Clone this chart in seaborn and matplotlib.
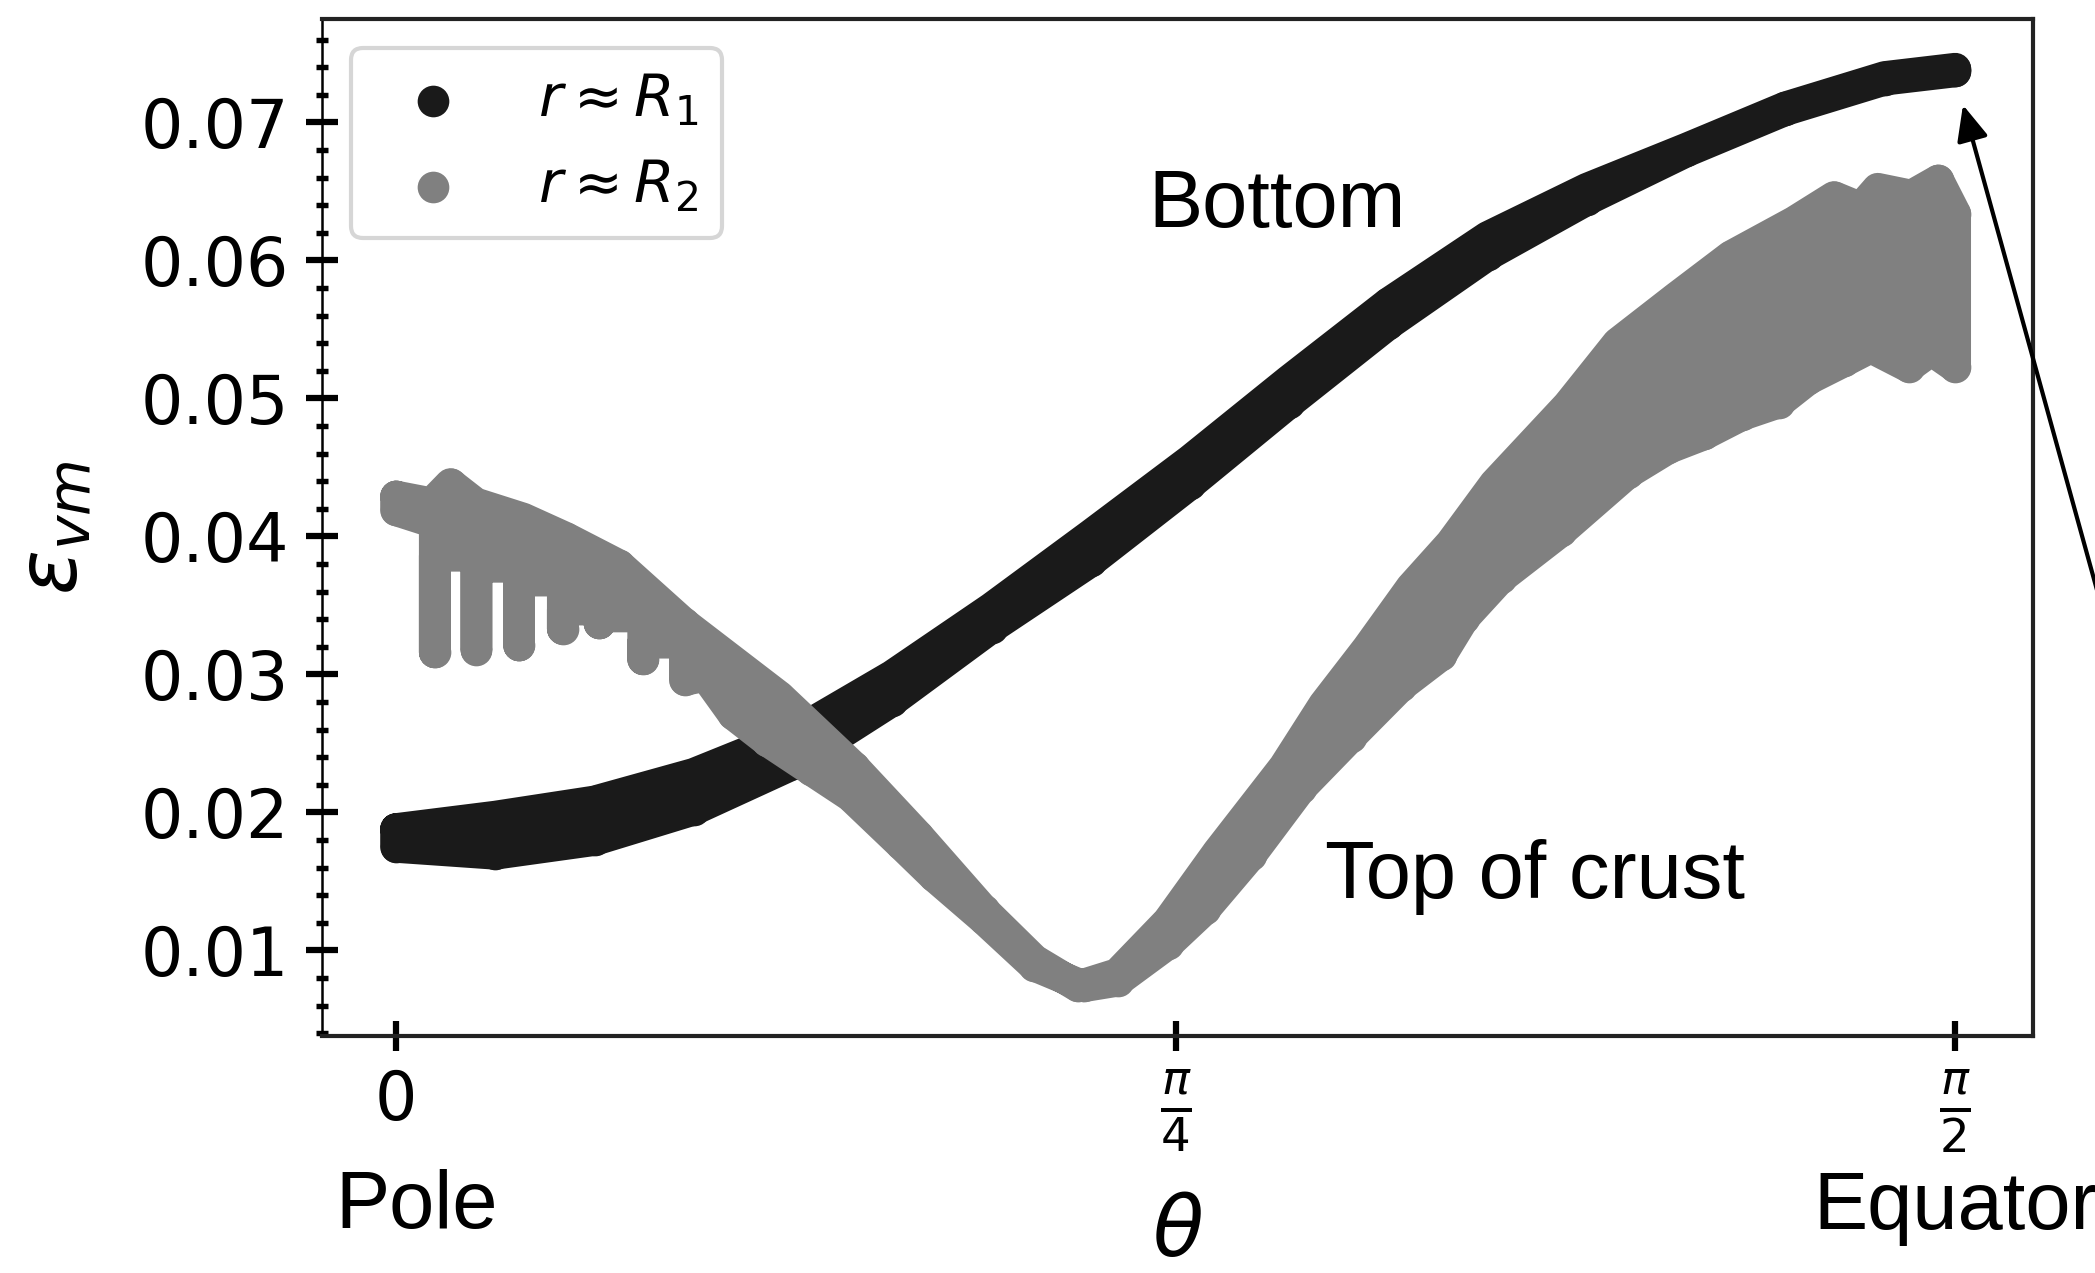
import numpy as np
import pandas as pd
import matplotlib
matplotlib.use("Agg")
import matplotlib.pyplot as plt
from matplotlib.patches import FancyArrowPatch
from matplotlib.ticker import MultipleLocator
import seaborn as sns

# ---------------- data ----------------
# r ~ R1 ("Bottom"): upper / lower envelope of the point cloud (marker centres)
r1_theta = [0.0, 0.1, 0.2, 0.3, 0.4, 0.5, 0.6, 0.7, 0.8, 0.9, 1.0, 1.1, 1.2, 1.3,
            1.4, 1.5, 1.571]
r1_upper = [0.0188, 0.0197, 0.0208, 0.0228, 0.0257, 0.0299, 0.0348, 0.0401, 0.0455,
            0.0513, 0.0569, 0.0617, 0.0652, 0.0681, 0.0711, 0.0733, 0.0739]
r1_lower = [0.0175, 0.0170, 0.0180, 0.0202, 0.0235, 0.0281, 0.0334, 0.0382, 0.0438,
            0.0497, 0.0554, 0.0604, 0.0644, 0.0679, 0.0709, 0.0731, 0.0737]

# r ~ R2 ("Top of crust"): upper envelope
r2_up_theta = [0.000, 0.036, 0.055, 0.080, 0.128, 0.171, 0.225, 0.290, 0.386, 0.461,
               0.526, 0.592, 0.643, 0.687, 0.727, 0.778, 0.828, 0.895, 0.935, 0.979,
               1.023, 1.063, 1.107, 1.181, 1.231, 1.290, 1.345, 1.409, 1.449, 1.476,
               1.493, 1.527, 1.554, 1.571]
r2_upper = [0.0429, 0.0424, 0.0438, 0.0424, 0.0413, 0.0399, 0.0379, 0.0337, 0.0284, 0.0233,
            0.0183, 0.0129, 0.0093, 0.0074, 0.0083, 0.0121, 0.0171, 0.0233, 0.0278, 0.0319,
            0.0363, 0.0395, 0.0438, 0.0495, 0.0540, 0.0573, 0.0603, 0.0628, 0.0646, 0.0638,
            0.0652, 0.0647, 0.0658, 0.0634]
# r ~ R2: lower envelope (columns / "fingers" near the pole)
r2_lo_theta = [0.000, 0.039, 0.039, 0.039, 0.081, 0.081, 0.081, 0.124, 0.124, 0.124,
               0.168, 0.168, 0.168, 0.205, 0.205, 0.205, 0.249, 0.249, 0.249, 0.291,
               0.291, 0.312, 0.340, 0.374, 0.418, 0.458, 0.509, 0.542, 0.592, 0.643,
               0.693, 0.727, 0.778, 0.815, 0.861, 0.912, 0.962, 1.013, 1.053, 1.076,
               1.113, 1.174, 1.241, 1.282, 1.318, 1.356, 1.393, 1.423, 1.459, 1.486,
               1.524, 1.547, 1.571]
r2_lower = [0.0419, 0.0410, 0.0316, 0.0386, 0.0386, 0.0318, 0.0378, 0.0378, 0.0321, 0.0368,
            0.0368, 0.0333, 0.0347, 0.0347, 0.0337, 0.0342, 0.0342, 0.0311, 0.0323, 0.0323,
            0.0296, 0.0299, 0.0271, 0.0252, 0.0231, 0.0212, 0.0177, 0.0154, 0.0123, 0.0089,
            0.0074, 0.0078, 0.0105, 0.0130, 0.0169, 0.0218, 0.0255, 0.0292, 0.0314, 0.0341,
            0.0370, 0.0404, 0.0446, 0.0464, 0.0474, 0.0488, 0.0497, 0.0514, 0.0527, 0.0537,
            0.0523, 0.0535, 0.0523]

series_labels = [r'$r \approx R_1$', r'$r \approx R_2$']
series_colors = ['#1a1a1a', '#808080']

x_ticks = [0, np.pi / 4, np.pi / 2]
x_ticklabels = ['0', r'$\frac{\pi}{4}$', r'$\frac{\pi}{2}$']

# ---------------- figure ----------------
W, H, DPI = 2095, 1273, 300
fig = plt.figure(figsize=(W / DPI, H / DPI), dpi=DPI)
fig.patch.set_facecolor('white')
ax = fig.add_axes([322 / W, 1 - 1036 / H, (2033 - 322) / W, (1036 - 19) / H])

MARK_D = 7.6  # marker diameter in points


def draw_band(th_up, y_up, th_lo, y_lo, color, label, z):
    px = list(th_up) + list(th_lo)[::-1]
    py = list(y_up) + list(y_lo)[::-1]
    ax.fill(px, py, color=color, lw=0, zorder=z)
    outline = pd.DataFrame({'theta': px + [px[0]], 'eps': py + [py[0]]})
    sns.lineplot(data=outline, x='theta', y='eps', sort=False, estimator=None,
                 color=color, lw=MARK_D, solid_joinstyle='round',
                 solid_capstyle='round', ax=ax, zorder=z + 0.1)
    pts = pd.DataFrame({'theta': list(th_up) + list(th_lo),
                        'eps': list(y_up) + list(y_lo)})
    sns.scatterplot(data=pts, x='theta', y='eps', color=color, s=MARK_D ** 2,
                    linewidth=0, ax=ax, zorder=z + 0.2, label=label)


draw_band(r1_theta, r1_upper, r1_theta, r1_lower, series_colors[0], series_labels[0], 2)
draw_band(r2_up_theta, r2_upper, r2_lo_theta, r2_lower, series_colors[1], series_labels[1], 3)

ax.set_xlim(-0.0746, 1.6494)
ax.set_ylim(0.0038, 0.0775)

ax.set_xticks(x_ticks)
ax.set_xticklabels(x_ticklabels)
ax.yaxis.set_major_locator(MultipleLocator(0.01))
ax.yaxis.set_minor_locator(MultipleLocator(0.002))
ax.tick_params(axis='y', which='major', direction='inout', length=7.8, width=1.5,
               labelsize=16, pad=4, color='black')
ax.tick_params(axis='y', which='minor', direction='inout', length=3.0, width=1.3,
               color='black')
ax.tick_params(axis='x', which='major', direction='inout', length=7.2, width=1.5,
               labelsize=16, pad=4, color='black')
ax.tick_params(axis='x', which='minor', bottom=False)

ax.set_xlabel(r'$\theta$', fontsize=20, labelpad=9)
ax.set_ylabel(r'$\epsilon_{vm}$', fontsize=20, labelpad=11)

for side in ['top', 'right', 'bottom']:
    ax.spines[side].set_linewidth(1.0)
    ax.spines[side].set_color('#222222')
ax.spines['left'].set_linewidth(0.6)
ax.spines['left'].set_color('black')

ax.legend(loc='upper left', fontsize=14)

# annotation texts
txt = dict(fontsize=19.5, family=['Liberation Sans', 'DejaVu Sans'], color='black',
           ha='left', va='baseline')
fig.text(1148 / W, 1 - 227 / H, 'Bottom', **txt)
fig.text(1325 / W, 1 - 898 / H, 'Top of crust', **txt)
fig.text(335 / W, 1 - 1228 / H, 'Pole', **txt)
fig.text(1813 / W, 1 - 1229 / H, 'Equator', **txt)

arrow = FancyArrowPatch(posA=(2155 / W, 1 - 800 / H), posB=(1963 / W, 1 - 105 / H),
                        transform=fig.transFigure,
                        arrowstyle='-|>,head_length=0.45,head_width=0.2',
                        mutation_scale=16, lw=1.0, color='black',
                        shrinkA=0, shrinkB=0)
fig.add_artist(arrow)

fig.savefig('out.png', dpi=DPI, facecolor='white')
